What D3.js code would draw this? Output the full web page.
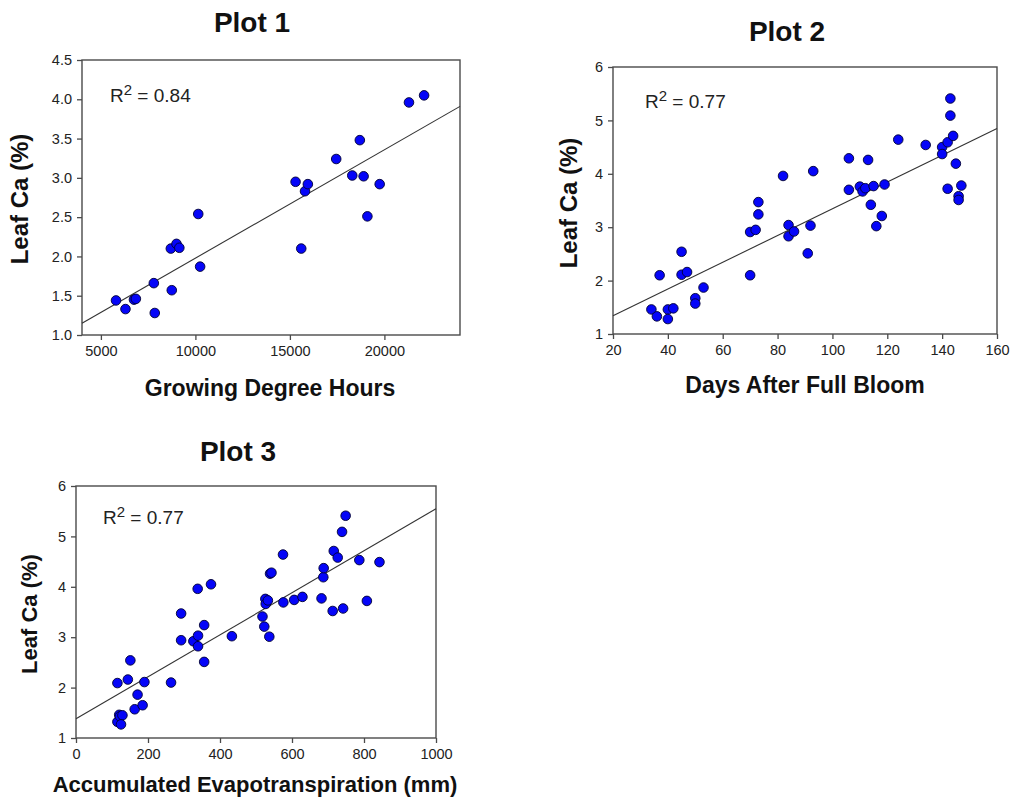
<!DOCTYPE html>
<html>
<head>
<meta charset="utf-8">
<script src="https://cdn.jsdelivr.net/npm/d3@7"></script>
<style>
  body { margin: 0; background: #fff; }
  svg text { font-family: "Liberation Sans", Arial, sans-serif; }
</style>
</head>
<body>
<svg id="chart" width="1011" height="799"></svg>
<script>
// Plot 1 : growing degree hours vs leaf Ca
var p1_gdh = [5800, 6300, 6750, 6850, 7800, 7850, 8700, 8750, 9000, 9150, 10150, 10250,
    15300, 15600, 15800, 15950, 17450, 18300, 18700, 18900, 19100, 19750, 21300, 22100];
var p1_ca = [1.44, 1.33, 1.45, 1.46, 1.66, 1.28, 2.10, 1.57, 2.16, 2.11, 2.54, 1.87,
    2.95, 2.10, 2.83, 2.92, 3.24, 3.03, 3.48, 3.02, 2.51, 2.92, 3.96, 4.05];
var p1_fit = [[4000, 1.15], [24000, 3.91]];
var p1_xticks = [5000, 10000, 15000, 20000];
var p1_yticks = [1.0, 1.5, 2.0, 2.5, 3.0, 3.5, 4.0, 4.5];

// Plot 2 : days after full bloom vs leaf Ca
var p2_days = [34, 36, 37, 40, 40, 42, 45, 45, 47, 50, 50, 53,
    70, 70, 72, 73, 73, 82, 84, 84, 86, 91, 92, 93,
    106, 106, 110, 111, 112, 113, 114, 115, 116, 118, 119, 124,
    134, 140, 140, 142, 142, 143, 143, 144, 145, 146, 146, 147];
var p2_ca = [1.46, 1.33, 2.10, 1.46, 1.28, 1.48, 2.54, 2.11, 2.16, 1.67, 1.57, 1.87,
    2.10, 2.91, 2.95, 3.47, 3.24, 3.96, 3.04, 2.83, 2.92, 2.51, 3.03, 4.05,
    4.29, 3.70, 3.76, 3.67, 3.73, 4.26, 3.42, 3.77, 3.02, 3.21, 3.80, 4.64,
    4.54, 4.50, 4.37, 4.59, 3.72, 5.41, 5.09, 4.71, 4.19, 3.58, 3.51, 3.78];
var p2_fit = [[20, 1.34], [160, 4.85]];
var p2_xticks = [20, 40, 60, 80, 100, 120, 140, 160];
var p2_yticks = [1, 2, 3, 4, 5, 6];

// Plot 3 : accumulated ET vs leaf Ca
var p3_et = [115, 115, 120, 122, 129, 125, 144, 151, 163, 171, 185, 190,
    264, 292, 292, 326, 338, 339, 339, 356, 356, 375, 433,
    518, 523, 526, 527, 533, 537, 539, 543, 575, 576, 606, 629,
    682, 687, 688, 713, 716, 727, 739, 742, 749, 787, 808, 843];
var p3_ca = [2.09, 1.32, 1.46, 1.43, 1.45, 1.27, 2.16, 2.54, 1.57, 1.86, 1.65, 2.11,
    2.10, 3.47, 2.94, 2.92, 3.96, 3.03, 2.82, 3.24, 2.51, 4.05, 3.02,
    3.41, 3.21, 3.76, 3.66, 3.73, 3.01, 4.26, 4.28, 4.64, 3.69, 3.74, 3.80,
    3.77, 4.19, 4.37, 3.52, 4.71, 4.58, 5.09, 3.57, 5.41, 4.53, 3.72, 4.49];
var p3_fit = [[0, 1.38], [1000, 5.55]];
var p3_xticks = [0, 200, 400, 600, 800, 1000];
var p3_yticks = [1, 2, 3, 4, 5, 6];

var svg = d3.select("#chart");

function drawPanel(cfg) {
    var g = svg.append("g")
        .attr("transform", "translate(" + cfg.left + "," + cfg.top + ")");
    var w = cfg.width, h = cfg.height;

    var x = d3.scaleLinear().domain(cfg.xDomain).range([0, w]);
    var y = d3.scaleLinear().domain(cfg.yDomain).range([h, 0]);

    // frame
    g.append("rect")
        .attr("width", w).attr("height", h)
        .attr("fill", "none")
        .attr("stroke", "#4a4a4a")
        .attr("stroke-width", 1.4);

    var xAxis = g.append("g")
        .attr("transform", "translate(0," + h + ")")
        .call(d3.axisBottom(x).tickValues(cfg.xTicks).tickSize(5).tickPadding(6)
            .tickFormat(cfg.xFormat || d3.format("d")));
    var yAxis = g.append("g")
        .call(d3.axisLeft(y).tickValues(cfg.yTicks).tickSize(5).tickPadding(5)
            .tickFormat(cfg.yFormat || d3.format("d")));

    [xAxis, yAxis].forEach(function(a) {
        a.select(".domain").remove();
        a.selectAll(".tick line").attr("stroke", "#4a4a4a").attr("stroke-width", 1.3);
        a.selectAll(".tick text")
            .attr("fill", "#222")
            .style("font-size", "14.5px");
    });

    // regression line
    g.append("path")
        .datum(cfg.fit)
        .attr("fill", "none")
        .attr("stroke", "#333")
        .attr("stroke-width", 1.1)
        .attr("d", d3.line()
            .x(function(d) { return x(d[0]) })
            .y(function(d) { return y(d[1]) }));

    // points
    g.selectAll("circle.pt")
        .data(cfg.xs.map(function(v, i) { return [v, cfg.ys[i]]; }))
        .enter().append("circle")
        .attr("class", "pt")
        .attr("cx", function(d) { return x(d[0]) })
        .attr("cy", function(d) { return y(d[1]) })
        .attr("r", 4.8)
        .attr("fill", "#0505f8")
        .attr("stroke", "#000033")
        .attr("stroke-width", 0.9);

    // R squared
    var r2 = g.append("text")
        .attr("x", cfg.r2x).attr("y", cfg.r2y)
        .attr("fill", "#222")
        .style("font-size", "19px");
    r2.append("tspan").text("R");
    r2.append("tspan").attr("dy", -7).style("font-size", "15px").text("2");
    r2.append("tspan").attr("dy", 7).text(" = " + cfg.r2);

    // title
    svg.append("text")
        .attr("x", cfg.titleX).attr("y", cfg.titleY)
        .attr("text-anchor", "middle")
        .style("font-size", "28px").style("font-weight", "bold")
        .attr("fill", "#111")
        .text(cfg.title);

    // x label
    svg.append("text")
        .attr("x", cfg.xlabX).attr("y", cfg.xlabY)
        .attr("text-anchor", "middle")
        .style("font-size", cfg.xlabSize).style("font-weight", "bold")
        .attr("fill", "#111")
        .text(cfg.xlab);

    // y label
    svg.append("text")
        .attr("transform", "translate(" + cfg.ylabX + "," + cfg.ylabY + ") rotate(-90)")
        .attr("text-anchor", "middle")
        .style("font-size", cfg.ylabSize).style("font-weight", "bold")
        .attr("fill", "#111")
        .text("Leaf Ca (%)");
}

drawPanel({
    left: 82, top: 60, width: 378, height: 275,
    xDomain: [4000, 24000], yDomain: [1.0, 4.5],
    xTicks: p1_xticks, yTicks: p1_yticks, yFormat: d3.format(".1f"),
    xs: p1_gdh, ys: p1_ca, fit: p1_fit,
    r2: "0.84", r2x: 28, r2y: 42,
    title: "Plot 1", titleX: 252, titleY: 32,
    xlab: "Growing Degree Hours", xlabX: 270, xlabY: 396, xlabSize: "23px",
    ylabX: 28, ylabY: 199, ylabSize: "24px"
});

drawPanel({
    left: 613, top: 67, width: 384, height: 267,
    xDomain: [20, 160], yDomain: [1, 6],
    xTicks: p2_xticks, yTicks: p2_yticks,
    xs: p2_days, ys: p2_ca, fit: p2_fit,
    r2: "0.77", r2x: 32, r2y: 41,
    title: "Plot 2", titleX: 787, titleY: 41,
    xlab: "Days After Full Bloom", xlabX: 805, xlabY: 393, xlabSize: "23px",
    ylabX: 577, ylabY: 203, ylabSize: "24px"
});

drawPanel({
    left: 76, top: 486, width: 360, height: 252,
    xDomain: [0, 1000], yDomain: [1, 6],
    xTicks: p3_xticks, yTicks: p3_yticks,
    xs: p3_et, ys: p3_ca, fit: p3_fit,
    r2: "0.77", r2x: 27, r2y: 38,
    title: "Plot 3", titleX: 238, titleY: 461,
    xlab: "Accumulated Evapotranspiration (mm)", xlabX: 255, xlabY: 792, xlabSize: "22px",
    ylabX: 37, ylabY: 614, ylabSize: "22px"
});
</script>
</body>
</html>
